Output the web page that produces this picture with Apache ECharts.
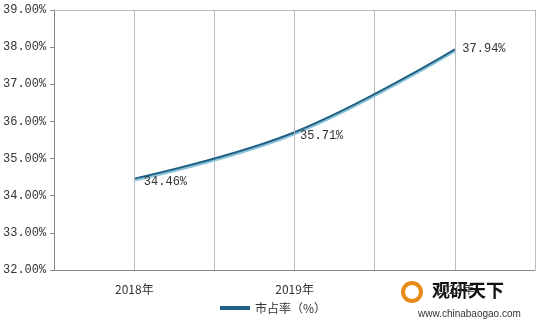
<!DOCTYPE html>
<html><head><meta charset="utf-8">
<script src="https://cdn.jsdelivr.net/npm/echarts@6/dist/echarts.min.js"></script>
<style>html,body{margin:0;padding:0;background:#fff}#c{width:546px;height:325px}</style>
</head><body><div id="c"></div>
<script>
const categories = ['2018年', '2019年', '2020年'];
const values = [34.46, 35.71, 37.94];
const seriesName = '市占率（%）';
const yMin = 32, yMax = 39, yStep = 1;

const labelOffsets = [[4, 3], [0, 4], [2, -1]];
const chart = echarts.init(document.getElementById('c'));
const numFont = '"Liberation Mono","DejaVu Sans Mono",monospace';
chart.setOption({
  animation: false,
  grid: {left: 54, right: 11, top: 10, bottom: 55},
  legend: {
    bottom: 6, left: 'center',
    itemWidth: 30, itemHeight: 4, itemGap: 2,
    icon: 'rect',
    itemStyle: {color: '#1f6185'},
    textStyle: {fontSize: 12, color: '#333', fontFamily: '"Noto Sans CJK SC"'},
    data: [seriesName]
  },
  xAxis: [{
    type: 'category', data: categories, boundaryGap: true,
    axisLine: {lineStyle: {color: '#888', width: 1}},
    axisTick: {show: false},
    axisLabel: {color: '#333', fontSize: 12, margin: 13, fontFamily: '"Noto Sans CJK SC"'},
    splitLine: {show: true, lineStyle: {color: '#bbb', width: 1}}
  }, {
    type: 'category', data: categories, position: 'top',
    axisLine: {show: true, lineStyle: {color: '#bbb', width: 1}},
    axisTick: {show: false}, axisLabel: {show: false}, splitLine: {show: false}
  }],
  yAxis: {
    type: 'value', min: yMin, max: yMax, interval: yStep,
    axisLine: {show: true, lineStyle: {color: '#888'}},
    axisTick: {show: true, length: 4, lineStyle: {color: '#888'}},
    axisLabel: {color: '#333', fontSize: 12, margin: 8, fontFamily: numFont,
      formatter: v => v.toFixed(2) + '%'},
    splitLine: {show: false}
  },
  series: [{
    name: seriesName, type: 'line', smooth: 0.4,
    data: values.map((v, i) => ({value: v, label: {offset: labelOffsets[i]}})),
    symbol: 'circle', symbolSize: 1, showSymbol: true,
    lineStyle: {color: '#1f6185', width: 2, shadowColor: '#8cc4dc', shadowOffsetY: 2, shadowBlur: 0},
    itemStyle: {color: 'rgba(0,0,0,0)'},
    label: {show: true, position: 'right', color: '#333', fontSize: 12,
      fontFamily: numFont, formatter: p => p.value.toFixed(2) + '%'},
    markLine: {
      silent: true, symbol: 'none', label: {show: false},
      lineStyle: {color: '#bbb', width: 1, type: 'solid'},
      data: categories.map(c => ({xAxis: c}))
    }
  }],
  graphic: [
    {type: 'text', left: 432, top: 281, style: {text: '观研天下', fontSize: 18, fontWeight: 'bold', fill: '#111', fontFamily: '"Noto Sans CJK SC"'}},
    {type: 'circle', shape: {cx: 412, cy: 292, r: 9}, style: {fill: 'none', stroke: '#e88a1a', lineWidth: 4}},
    {type: 'text', left: 418, top: 309, style: {text: 'www.chinabaogao.com', fontSize: 10, fill: '#333', fontFamily: 'Liberation Sans'}}
  ]
});
</script></body></html>
